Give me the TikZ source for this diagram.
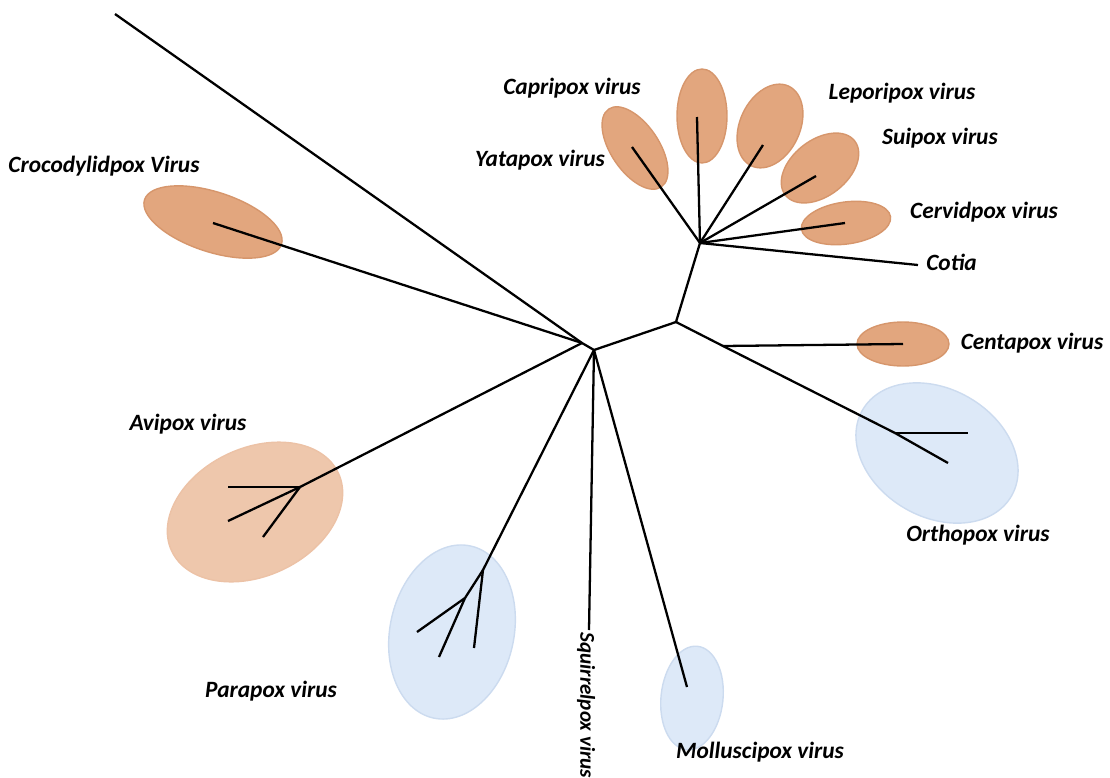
\documentclass[tikz,border=0pt]{standalone}
\usepackage{fontspec}
\setmainfont{Carlito}

\definecolor{poxorange}{RGB}{226,166,126}
\definecolor{poxedge}{RGB}{214,150,108}
\definecolor{avifill}{RGB}{238,199,172}
\definecolor{poxblue}{RGB}{221,233,248}
\definecolor{blueedge}{RGB}{204,219,239}

\tikzset{
  branch/.style={line width=1.3pt,black},
  orangeclade/.style={fill=poxorange,draw=poxedge,line width=0.8pt},
  paleclade/.style={fill=avifill,draw=avifill!90!poxedge,line width=0.8pt},
  blueclade/.style={fill=poxblue,draw=blueedge,line width=0.8pt},
  taxon/.style={font=\fontsize{13.3}{16}\selectfont\bfseries\itshape,inner sep=0pt}
}

\begin{document}
\begin{tikzpicture}[x=0.02cm,y=-0.02cm]
\useasboundingbox (0,0) rectangle (1110,778);

% Clade ellipses
\draw[orangeclade,rotate around={-18:(213,222)}] (213,222) ellipse [x radius=72,y radius=30];
\draw[paleclade,rotate around={25:(255,512)}] (255,512) ellipse [x radius=92,y radius=64];
\draw[blueclade,rotate around={-12:(452,632)}] (452,632) ellipse [x radius=62,y radius=88];
\draw[blueclade,rotate around={-6:(692,698)}] (692,698) ellipse [x radius=31,y radius=52];
\draw[orangeclade,rotate around={34:(635,148)}] (635,148) ellipse [x radius=24,y radius=47];
\draw[orangeclade] (702,116) ellipse [x radius=25,y radius=47];
\draw[orangeclade,rotate around={-25:(770,126)}] (770,126) ellipse [x radius=30,y radius=44];
\draw[orangeclade,rotate around={38:(820,168)}] (820,168) ellipse [x radius=44,y radius=28];
\draw[orangeclade,rotate around={8:(846,223)}] (846,223) ellipse [x radius=45,y radius=21];
\draw[orangeclade] (903,344) ellipse [x radius=46,y radius=22];
\draw[blueclade,rotate around={-30:(937,453)}] (937,453) ellipse [x radius=86,y radius=64];

% Inner nodes
\coordinate (root) at (582,343);
\coordinate (base) at (594,350);
\coordinate (mid) at (676,322);
\coordinate (hub) at (700,243);
\coordinate (centaj) at (723,346);
\coordinate (orthoj) at (895,433);
\coordinate (avij) at (300,487);
\coordinate (paraj) at (483,570);
\coordinate (parak) at (465,598);

% Tips
\coordinate (top) at (115,14);
\coordinate (croc) at (213,223);
\coordinate (avi1) at (228,487);
\coordinate (avi2) at (228,521);
\coordinate (avi3) at (263,537);
\coordinate (para1) at (474,648);
\coordinate (para2) at (417,632);
\coordinate (para3) at (439,657);
\coordinate (squi) at (589,630);
\coordinate (moll) at (687,687);
\coordinate (centa) at (903,344);
\coordinate (ortho1) at (968,433);
\coordinate (ortho2) at (948,463);
\coordinate (cotia) at (918,265);
\coordinate (yata) at (632,147);
\coordinate (capri) at (697,117);
\coordinate (lepori) at (763,145);
\coordinate (sui) at (816,176);
\coordinate (cervid) at (845,223);

% Branches
\draw[branch] (top) -- (root) -- (base) -- (mid) -- (hub);
\draw[branch] (croc) -- (root);
\draw[branch] (root) -- (avij);
\foreach \t in {avi1,avi2,avi3}
{
\draw[branch] (avij) -- (\t);
}
\draw[branch] (base) -- (paraj) -- (para1);
\draw[branch] (paraj) -- (parak);
\foreach \t in {para2,para3}
{
\draw[branch] (parak) -- (\t);
}
\draw[branch] (base) -- (squi);
\draw[branch] (base) -- (moll);
\draw[branch] (mid) -- (centaj) -- (orthoj);
\draw[branch] (centaj) -- (centa);
\foreach \t in {ortho1,ortho2}
{
\draw[branch] (orthoj) -- (\t);
}
\foreach \t in {yata,capri,lepori,sui,cervid,cotia}
{
\draw[branch] (hub) -- (\t);
}

% Labels
\node[taxon] (crocL) at (104,166) {Crocodylidpox Virus};
\node[taxon] (capriL) at (572,88) {Capripox virus};
\node[taxon] (yataL) at (540,160) {Yatapox virus};
\node[taxon] (leporiL) at (902,93) {Leporipox virus};
\node[taxon] (suiL) at (940,138) {Suipox virus};
\node[taxon] (cervidL) at (984,212) {Cervidpox virus};
\node[taxon,anchor=west] (cotiaL) at (926,262) {Cotia};
\node[taxon] (centaL) at (1032,343) {Centapox virus};
\node[taxon] (orthoL) at (978,535) {Orthopox virus};
\node[taxon] (aviL) at (188,424) {Avipox virus};
\node[taxon] (paraL) at (271,691) {Parapox virus};
\node[taxon] (mollL) at (760,752) {Molluscipox virus};
\node[taxon,font=\fontsize{12}{14}\selectfont\bfseries\itshape,rotate=-90,anchor=west] (squiL) at (586,632) {Squirrelpox virus};

\end{tikzpicture}
\end{document}
